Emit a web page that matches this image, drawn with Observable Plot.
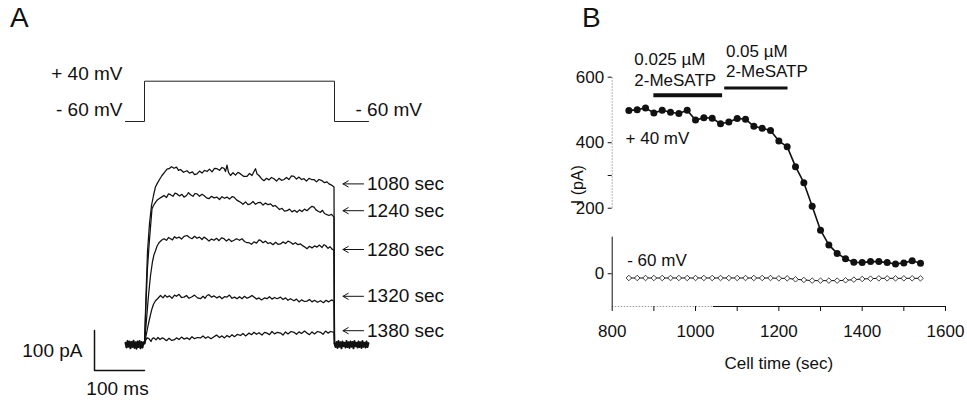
<!DOCTYPE html>
<html><head><meta charset="utf-8">
<script src="https://cdn.jsdelivr.net/npm/d3@7"></script>
<script src="https://cdn.jsdelivr.net/npm/@observablehq/plot@0.6"></script>
<style>
body{margin:0;background:#fff;}
#wrap{position:relative;width:967px;height:402px;overflow:hidden;font-family:'Liberation Sans',Arial,sans-serif;background:#fff;}
.pl{position:absolute;top:0;}
.panel{position:absolute;font-size:28px;line-height:1;color:#111;}
</style></head><body>
<div id="wrap">
 <div class="panel" style="left:10px;top:4px">A</div>
 <div class="panel" style="left:582px;top:4px">B</div>
</div>
<script>
// ---------- Panel A : voltage protocol ----------
const stepTime = [-38, 0, 0, 380, 380, 448];
const stepMV   = [-60, -60, 40, 40, -60, -60];

// ---------- Panel A : current traces (t in ms from step onset, I in pA) ----------
const trace1080 = [[0,0],[3,120],[6,230],[10,300],[14,345],[18,370],[22,392],[25,399],[30,410],[35,420],[40,428],[45,436],[49,437],[54,442],[59,438],[64,441],[68,433],[72,435],[78,428],[85,432],[90,426],[96,429],[100,422],[105,424],[110,431],[115,426],[120,433],[125,430],[130,436],[135,429],[140,438],[145,437],[150,433],[155,440],[159,438],[162,430],[165,446],[168,428],[172,420],[177,427],[182,421],[187,428],[192,424],[198,418],[205,418],[210,425],[215,420],[219,430],[222,437],[225,424],[229,420],[234,412],[239,407],[244,413],[249,409],[254,415],[259,412],[264,406],[269,413],[274,408],[279,410],[284,415],[289,410],[294,419],[299,418],[304,411],[309,416],[314,410],[319,412],[324,406],[329,413],[334,410],[339,410],[344,404],[349,410],[355,407],[360,402],[365,404],[369,399],[374,396],[379,391],[380,0]];
const trace1240 = [[0,0],[3,100],[6,190],[10,260],[15,337],[18,345],[22,353],[25,358],[29,362],[34,366],[39,370],[44,365],[48,374],[52,372],[57,368],[61,376],[65,374],[70,369],[75,373],[79,366],[84,370],[88,377],[92,372],[97,368],[101,375],[105,374],[110,368],[115,373],[119,370],[124,364],[129,362],[134,368],[139,364],[145,366],[150,360],[155,367],[160,363],[165,366],[170,361],[175,367],[179,366],[184,359],[188,356],[192,353],[197,348],[202,354],[207,347],[212,349],[217,355],[222,348],[227,352],[232,353],[237,346],[242,351],[247,347],[252,349],[257,343],[261,345],[265,341],[270,335],[275,338],[280,331],[285,332],[290,336],[295,329],[300,333],[305,328],[310,334],[315,330],[320,336],[325,332],[330,338],[335,343],[339,341],[343,334],[348,330],[352,328],[356,333],[360,325],[365,322],[369,320],[374,323],[379,316],[380,0]];
const trace1280 = [[0,0],[4,60],[8,120],[12,170],[16,205],[19,222],[22,232],[25,243],[29,252],[34,258],[39,262],[44,258],[48,265],[52,262],[56,259],[60,267],[64,263],[69,266],[74,261],[79,268],[85,270],[90,265],[95,262],[100,268],[105,263],[110,266],[115,260],[119,266],[124,262],[129,256],[134,261],[139,258],[144,263],[149,257],[154,264],[159,262],[164,256],[169,261],[174,255],[179,258],[184,262],[190,258],[195,262],[200,255],[205,252],[209,252],[214,248],[219,254],[224,251],[229,259],[232,258],[237,252],[242,256],[247,250],[252,252],[257,247],[262,253],[267,248],[272,249],[277,254],[282,250],[287,256],[292,253],[297,248],[302,252],[307,247],[312,249],[317,244],[322,240],[325,237],[330,243],[335,239],[340,244],[345,241],[350,246],[355,240],[359,247],[362,245],[367,238],[371,242],[375,236],[379,233],[380,0]];
const trace1320 = [[0,0],[4,25],[8,50],[12,72],[15,87],[18,98],[22,107],[26,112],[32,120],[37,114],[41,121],[45,116],[50,119],[55,113],[60,121],[64,118],[69,123],[74,115],[79,116],[84,120],[89,113],[95,117],[100,121],[106,114],[112,112],[117,118],[121,113],[125,120],[129,122],[134,116],[139,119],[145,114],[150,118],[155,112],[160,117],[165,116],[170,121],[175,113],[180,116],[185,112],[190,117],[195,112],[200,118],[205,113],[210,116],[215,120],[219,116],[224,111],[229,114],[234,109],[240,114],[245,112],[250,117],[255,111],[260,115],[265,112],[272,116],[277,110],[282,114],[287,108],[292,112],[299,107],[304,111],[309,104],[314,109],[320,105],[325,106],[330,110],[335,104],[340,108],[346,103],[352,107],[358,102],[363,108],[368,104],[374,109],[379,106],[380,0]];
const trace1380 = [[0,0],[2,7],[5,14],[9,12],[13,5],[16,13],[19,14],[23,9],[27,15],[31,10],[35,14],[39,12],[44,7],[49,13],[54,8],[59,9],[64,14],[69,10],[74,16],[79,11],[85,14],[90,10],[95,17],[100,12],[106,15],[112,14],[117,19],[122,13],[127,17],[133,12],[139,17],[144,21],[150,15],[155,19],[160,14],[165,20],[170,16],[175,22],[180,17],[186,23],[192,20],[197,25],[202,19],[207,24],[209,26],[214,22],[219,28],[224,23],[229,27],[235,21],[240,28],[245,26],[250,22],[255,30],[260,24],[266,28],[272,26],[277,21],[282,29],[287,24],[293,30],[299,28],[304,23],[309,29],[314,25],[320,31],[325,26],[330,22],[335,29],[340,24],[346,30],[352,28],[357,23],[362,31],[367,26],[372,30],[379,28],[380,0]];
const baselinePre  = [[-38,2],[-36,-10],[-34,6],[-32,-8],[-30,5],[-28,-12],[-26,4],[-24,-9],[-22,7],[-20,-11],[-18,3],[-16,-13],[-14,5],[-12,-9],[-10,6],[-8,-12],[-6,4],[-4,-10],[-2,3],[0,0]];
const baselinePost = [[380,0],[382,-9],[384,4],[386,-11],[388,6],[390,-8],[392,3],[394,-12],[396,5],[398,-7],[400,2],[402,-10],[404,6],[406,-9],[408,3],[410,-11],[412,5],[414,-8],[416,4],[418,-12],[420,6],[422,-7],[424,2],[426,-10],[428,5],[430,-9],[432,3],[434,-11],[436,6],[438,-8],[440,2],[442,-10],[444,5],[446,-9],[448,1]];
const traces = [trace1080, trace1240, trace1280, trace1320, trace1380];
const traceLabels = ["1080 sec", "1240 sec", "1280 sec", "1320 sec", "1380 sec"];
const labelI = [399, 332, 235, 118, 32];
const scaleBarT = [-100, -100, 0];
const scaleBarI = [32.5, -67.5, -67.5];

// ---------- Panel B ----------
const cellTime = [840,860,880,900,920,940,960,980,1000,1020,1040,1060,1080,1100,1120,1140,1160,1180,1200,1220,1240,1260,1280,1300,1320,1340,1360,1380,1400,1420,1440,1460,1480,1500,1520,1540];
const iPlus40  = [498,501,506,491,499,493,489,499,469,476,475,458,463,474,472,450,444,437,405,388,327,278,206,133,88,62,46,35,34,37,37,34,30,33,40,32];
const iMinus60 = [-13,-13,-13,-13,-13,-13,-13,-13,-13,-13,-13,-13,-13,-13,-13,-13,-13,-13,-14,-14,-17,-19,-21,-21,-21,-21,-20,-18,-16,-15,-14,-14,-14,-14,-14,-14];
const drugStart = [900, 1070];
const drugEnd   = [1065, 1222];
const drugConc  = ["0.025 \u00b5M", "0.05 \u00b5M"];
const drugName  = "2-MeSATP";
const xTicks = [800,900,1000,1100,1200,1300,1400,1500,1600];
const xTickLabels = [800,1000,1200,1400,1600];
const yTicks = [0,200,300,400,600];
const yTickLabels = [0,200,400,600];

const FONT = "'Liberation Sans', Arial, sans-serif";
const wrap = document.getElementById("wrap");
function place(svg, left) {
  svg.classList.add("pl");
  svg.style.left = left + "px";
  wrap.appendChild(svg);
}

// Voltage protocol plot
const vPlot = Plot.plot({
  width: 460, height: 150,
  marginLeft: 19, marginRight: 66, marginTop: 80.7, marginBottom: 29,
  x: {domain: [-250, 500], axis: null},
  y: {domain: [-60, 40], axis: null},
  style: {fontFamily: FONT, fontSize: "19px", background: "transparent", color: "#111"},
  marks: [
    Plot.line(stepTime.map((t, i) => ({t, v: stepMV[i]})), {x: "t", y: "v", stroke: "#222", strokeWidth: 1}),
    Plot.text(["+ 40 mV"], {x: stepTime[0], y: stepMV[2], text: d => d, textAnchor: "end", dx: -3, dy: -7, fontSize: 19, fill: "#111"}),
    Plot.text(["- 60 mV"], {x: stepTime[0], y: stepMV[0], text: d => d, textAnchor: "end", dx: -3, dy: -12, fontSize: 19, fill: "#111"}),
    Plot.text(["- 60 mV"], {x: stepTime[5], y: stepMV[5], text: d => d, textAnchor: "start", dx: -13, dy: -12, fontSize: 19, fill: "#111"})
  ]
});
place(vPlot, 0);

// Current traces plot
const traceMarks = traces.map(tr => Plot.line(tr, {x: d => d[0], y: d => d[1], stroke: "#111", strokeWidth: 1.25}));
const labelRows = traceLabels.map((s, i) => ({s, y: labelI[i]}));
const iPlot = Plot.plot({
  width: 460, height: 402,
  marginLeft: 19, marginRight: 66, marginTop: 151, marginBottom: 19,
  x: {domain: [-250, 500], axis: null},
  y: {domain: [-100, 480], axis: null},
  style: {fontFamily: FONT, fontSize: "19px", background: "transparent", color: "#111"},
  marks: [
    Plot.line(baselinePre, {x: d => d[0], y: d => d[1], stroke: "#111", strokeWidth: 2}),
    Plot.line(baselinePost, {x: d => d[0], y: d => d[1], stroke: "#111", strokeWidth: 2}),
    ...traceMarks,
    Plot.arrow(labelRows, {x1: 438, x2: 397, y1: "y", y2: "y", stroke: "#111", strokeWidth: 1, headLength: 9}),
    Plot.text(labelRows, {x: 445, y: "y", text: "s", textAnchor: "start", fontSize: 19, fill: "#111"}),
    Plot.line(scaleBarT.map((t, i) => ({t, v: scaleBarI[i]})), {x: "t", y: "v", stroke: "#111", strokeWidth: 1.5}),
    Plot.text(["100 pA"], {x: scaleBarT[0], y: (scaleBarI[0] + scaleBarI[1]) / 2, text: d => d, textAnchor: "end", dx: -12, fontSize: 19, fill: "#111"}),
    Plot.text(["100 ms"], {x: (scaleBarT[1] + scaleBarT[2]) / 2, y: scaleBarI[2], text: d => d, dy: 18, dx: -2, fontSize: 19, fill: "#111"})
  ]
});
place(iPlot, 0);

// Panel B plot
const rowsB = cellTime.map((t, i) => ({t, p: iPlus40[i], m: iMinus60[i]}));
const bars = drugStart.map((s, i) => ({s, e: drugEnd[i], c: drugConc[i]}));
const bPlot = Plot.plot({
  width: 407, height: 402,
  marginLeft: 51.7, marginRight: 22, marginTop: 76.7, marginBottom: 96,
  x: {domain: [800, 1600]},
  y: {domain: [-100, 600]},
  style: {fontFamily: FONT, fontSize: "17px", background: "transparent", color: "#111"},
  marks: [
    Plot.ruleX([800], {y1: 200, y2: 600, stroke: "#999", strokeDasharray: "1.5,1.5"}),
    Plot.ruleX([800], {y1: -100, y2: 112, stroke: "#111"}),
    Plot.ruleY([-100], {x1: 800, x2: 1043, stroke: "#999", strokeDasharray: "1.5,1.5"}),
    Plot.ruleY([-100], {x1: 1043, x2: 1600, stroke: "#111"}),
    Plot.axisX({ticks: xTicks, tickFormat: d => xTickLabels.includes(d) ? String(d) : "", tickSize: 5, tickPadding: 13,
      label: "Cell time (sec)", labelAnchor: "center", labelArrow: "none", labelOffset: 62, fill: "#111"}),
    Plot.axisY({ticks: yTicks, tickFormat: d => yTickLabels.includes(d) ? String(d) : "", tickSize: 4, tickPadding: 4,
      label: null, fill: "#111"}),
    Plot.text(["I (pA)"], {x: 717, y: 272, text: d => d, rotate: -90, fontSize: 16, fill: "#111"}),
    Plot.line(rowsB, {x: "t", y: "m", stroke: "#111", strokeWidth: 1}),
    Plot.dot(rowsB, {x: "t", y: "m", symbol: "diamond2", r: 2.5, fill: "white", stroke: "#111", strokeWidth: 0.8}),
    Plot.line(rowsB, {x: "t", y: "p", stroke: "#111", strokeWidth: 1.6}),
    Plot.dot(rowsB, {x: "t", y: "p", r: 3.5, fill: "#111"}),
    Plot.ruleY(bars, {x1: "s", x2: "e", y: (d, i) => i === 0 ? 545 : 567, stroke: "#111", strokeWidth: (d, i) => i === 0 ? 4 : 3}),
    Plot.text([drugConc[0]], {x: 853, y: 655, text: d => d, textAnchor: "start", fontSize: 17, fill: "#111"}),
    Plot.text([drugName], {x: 853, y: 591, text: d => d, textAnchor: "start", fontSize: 17, fill: "#111"}),
    Plot.text([drugConc[1]], {x: 1073, y: 679, text: d => d, textAnchor: "start", fontSize: 17, fill: "#111"}),
    Plot.text([drugName], {x: 1073, y: 618, text: d => d, textAnchor: "start", fontSize: 17, fill: "#111"}),
    Plot.text(["+ 40 mV"], {x: 832, y: 414, text: d => d, textAnchor: "start", fontSize: 17, fill: "#111"}),
    Plot.text(["- 60 mV"], {x: 836, y: 39, text: d => d, textAnchor: "start", fontSize: 17, fill: "#111"})
  ]
});
place(bPlot, 560);
</script>
</body></html>
